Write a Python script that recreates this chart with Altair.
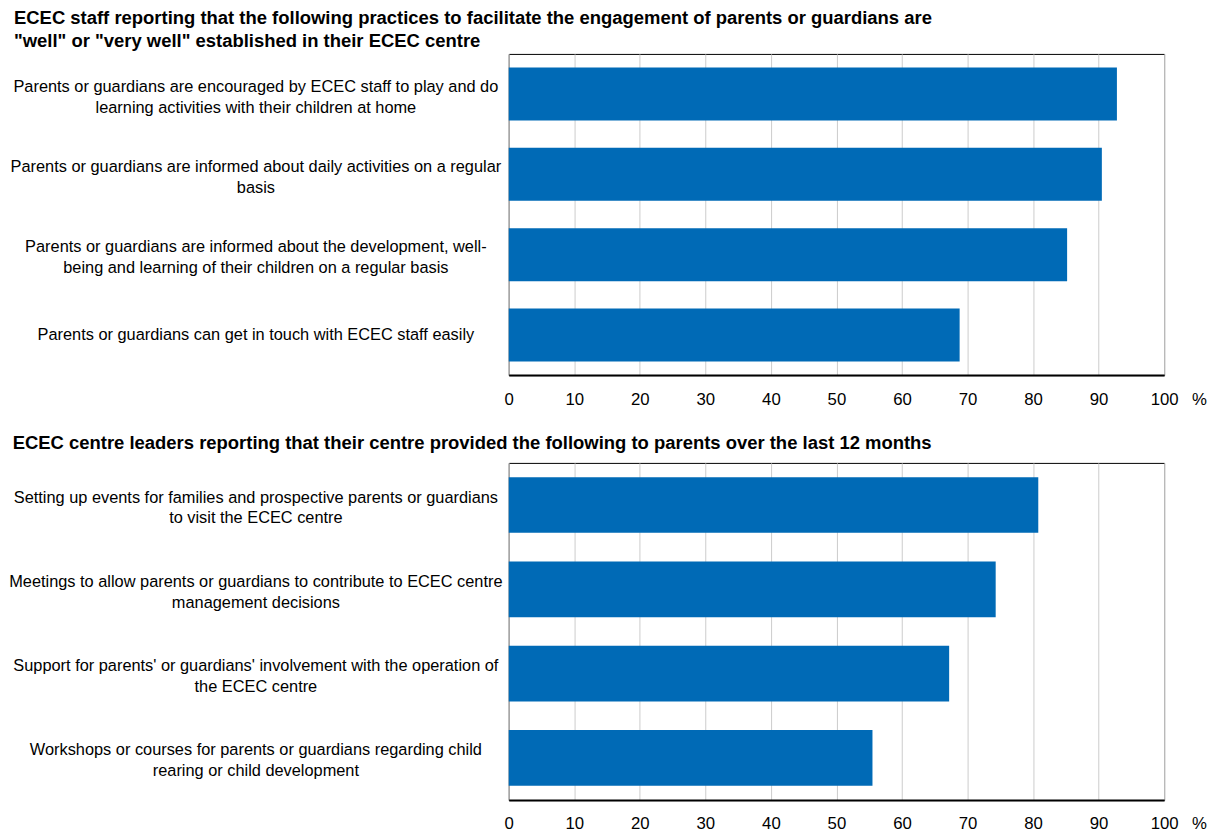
import altair as alt
import pandas as pd

FONT = "Liberation Sans"
BAR_COLOR = "#006AB6"

title_top = ["ECEC staff reporting that the following practices to facilitate the engagement of parents or guardians are",
             "\"well\" or \"very well\" established in their ECEC centre"]
title_bottom = "ECEC centre leaders reporting that their centre provided the following to parents over the last 12 months"

cats_top = [
    "Parents or guardians are encouraged by ECEC staff to play and do|learning activities with their children at home",
    "Parents or guardians are informed about daily activities on a regular|basis",
    "Parents or guardians are informed about the development, well-|being and learning of their children on a regular basis",
    "Parents or guardians can get in touch with ECEC staff easily",
]
vals_top = [92.8, 90.5, 85.2, 68.8]

cats_bottom = [
    "Setting up events for families and prospective parents or guardians|to visit the ECEC centre",
    "Meetings to allow parents or guardians to contribute to ECEC centre|management decisions",
    "Support for parents' or guardians' involvement with the operation of|the ECEC centre",
    "Workshops or courses for parents or guardians regarding child|rearing or child development",
]
vals_bottom = [80.8, 74.3, 67.2, 55.5]

x_ticks = [0, 10, 20, 30, 40, 50, 60, 70, 80, 90, 100]


def panel(cats, vals, title, height, offset):
    df = pd.DataFrame({"cat": cats, "val": vals})
    return alt.Chart(df, title=alt.TitleParams(
        text=title, anchor="start", dx=4, fontSize=18.5, fontWeight="bold",
        font=FONT, color="#000000", lineHeight=23, offset=offset,
    )).mark_bar(color=BAR_COLOR).encode(
        x=alt.X("val:Q",
                scale=alt.Scale(domain=[0, 100], nice=False, zero=True),
                axis=alt.Axis(values=x_ticks, grid=True, gridColor="#cccccc", gridWidth=1,
                              ticks=False, domain=True, domainColor="#000000", domainWidth=2,
                              labelFont=FONT, labelFontSize=16.8, labelColor="#000000",
                              labelPadding=16, labelBaseline="top", labelFlush=False,
                              title="%", titleFont=FONT, titleFontSize=16.8, titleFontWeight="normal",
                              titleColor="#000000", titleAngle=0, titleX=692, titleY=16,
                              titleBaseline="top", titleAlign="center")),
        y=alt.Y("cat:N", sort=cats,
                scale=alt.Scale(paddingInner=0.34, paddingOuter=0.17),
                axis=alt.Axis(title=None, ticks=False, domain=False, grid=False,
                              labelExpr="split(datum.label, '|')",
                              labelAlign="center", labelPadding=254, labelLimit=600,
                              labelFont=FONT, labelFontSize=16.4, labelColor="#000000",
                              labelLineHeight=21, minExtent=500, maxExtent=500,
                              labelOffset={"condition": {"test": "indexof(datum.label, '|') >= 0",
                                                         "value": -7.5},
                                           "value": 0})),
    ).properties(width=657, height=height)


top = panel(cats_top, vals_top, title_top, 322, 3)
bottom = panel(cats_bottom, vals_bottom, title_bottom, 338, 10)

chart = alt.vconcat(top, bottom, spacing=25).configure(
    background="white", font=FONT,
    padding={"left": 0, "top": 0, "right": 0, "bottom": 0},
    view=alt.ViewConfig(stroke="#000000", strokeWidth=1),
)

chart.save("out.html", embed_options={"renderer": "svg", "actions": False})
